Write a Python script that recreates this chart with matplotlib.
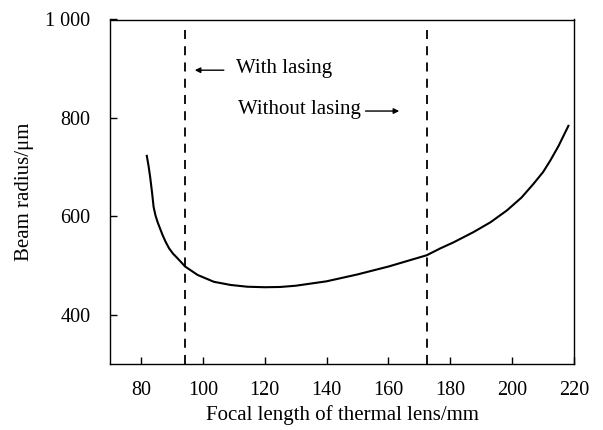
import matplotlib
matplotlib.use("Agg")
import matplotlib.pyplot as plt

# curve
focal = [81.9, 82.5, 83.0, 83.6, 84.1, 84.7, 85.4, 86.2, 87.0, 88.0, 89.1, 90.4, 91.8,
         94.3, 98.3, 103.6, 109, 114.4, 120, 125, 130, 140, 150, 160, 172.4, 176.8,
         181, 187.5, 193, 198.3, 203, 206.9, 210, 212.3, 215, 218.2]
radius = [723, 701, 679, 648, 619, 602, 588, 575, 562, 548, 535, 524, 515,
          498, 481, 467, 460.6, 457, 456, 456.5, 459, 468, 482, 498, 521, 535,
          547, 568, 588, 612, 638, 666, 690, 713, 743, 784]

lasing_lines = [94.2, 172.4]
xticks = [80, 100, 120, 140, 160, 180, 200, 220]
yticks = [400, 600, 800, 1000]
ytick_labels = ["400", "600", "800", "1 000"]

plt.rcParams['font.family'] = ['Liberation Serif', 'DejaVu Serif']
plt.rcParams['font.size'] = 15

fig = plt.figure(figsize=(6.03, 4.30), dpi=100)
ax = fig.add_axes([110/603, 1 - 364/430, 464/603, 344.5/430])

ax.plot(focal, radius, color='black', lw=1.5)
for xv in lasing_lines:
    ax.plot([xv, xv], [300, 979], color='black', lw=1.3, ls=(0, (5, 4)))

ax.annotate('', xy=(97.4, 897), xytext=(106.8, 897),
            arrowprops=dict(arrowstyle='-|>', color='black', lw=1.0,
                            mutation_scale=8, shrinkA=0, shrinkB=0))
ax.text(110.6, 901, 'With lasing', va='center', ha='left')
ax.text(111.3, 818, 'Without lasing', va='center', ha='left')
ax.annotate('', xy=(163.5, 814), xytext=(152.6, 814),
            arrowprops=dict(arrowstyle='-|>', color='black', lw=1.0,
                            mutation_scale=8, shrinkA=0, shrinkB=0))

ax.set_xlim(70, 220)
ax.set_ylim(300, 1000)
ax.set_xticks(xticks)
ax.set_yticks(yticks)
ax.set_yticklabels(ytick_labels)
ax.tick_params(direction='in', length=5, width=1, labelsize=14.5)
ax.tick_params(axis='x', pad=12)
ax.tick_params(axis='y', pad=14)
for s in ax.spines.values():
    s.set_linewidth(1)

ax.set_xlabel('Focal length of thermal lens/mm', labelpad=4)
ax.set_ylabel('Beam radius/μm', labelpad=8)

fig.savefig('out.png', dpi=100)
